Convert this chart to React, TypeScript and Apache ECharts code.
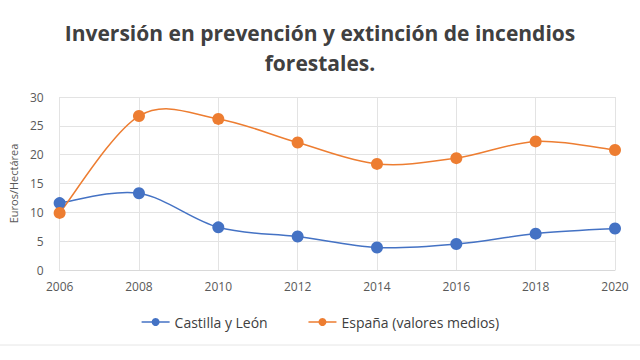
import React, { useEffect, useRef } from "react";
import * as echarts from "echarts";

const years = ["2006", "2008", "2010", "2012", "2014", "2016", "2018", "2020"];
const castilla = [11.6, 13.3, 7.4, 5.8, 3.9, 4.5, 6.3, 7.2];
const espana = [9.9, 26.7, 26.2, 22.1, 18.4, 19.4, 22.3, 20.8];

const BLUE = "#4472C4";
const ORANGE = "#ED7D31";

function smoothCurve(color: string) {
  return (params: any, api: any) => {
    if (params.dataIndex !== 0) return null;
    const n = params.dataInsideLength;
    const pts: number[][] = [];
    for (let j = 0; j < n; j++) {
      pts.push(api.coord([api.value(0, j), api.value(1, j)]));
    }
    let d = `M${pts[0][0]},${pts[0][1]}`;
    for (let i = 0; i < n - 1; i++) {
      const p0 = pts[Math.max(i - 1, 0)];
      const p1 = pts[i];
      const p2 = pts[i + 1];
      const p3 = pts[Math.min(i + 2, n - 1)];
      const c1x = p1[0] + (p2[0] - p0[0]) / 6;
      const c1y = p1[1] + (p2[1] - p0[1]) / 6;
      const c2x = p2[0] - (p3[0] - p1[0]) / 6;
      const c2y = p2[1] - (p3[1] - p1[1]) / 6;
      d += ` C${c1x},${c1y} ${c2x},${c2y} ${p2[0]},${p2[1]}`;
    }
    return {
      type: "path",
      shape: { pathData: d },
      style: { stroke: color, lineWidth: 1.5, fill: "none" },
    };
  };
}

export default function App() {
  const ref = useRef<HTMLDivElement>(null);
  useEffect(() => {
    const chart = echarts.init(ref.current!, null, { renderer: "svg" });
    const font = "Open Sans";
    chart.setOption({
      animation: false,
      backgroundColor: "#ffffff",
      title: {
        text: "Inversión en prevención y extinción de incendios\nforestales.",
        left: "center",
        top: 13,
        textStyle: {
          fontFamily: font,
          fontSize: 21,
          fontWeight: "bold",
          color: "#404040",
          lineHeight: 30,
          align: "center",
        },
      },
      grid: { left: 53, right: 25, top: 97, bottom: 90 },
      legend: {
        bottom: 26,
        left: "center",
        itemGap: 40,
        itemWidth: 28,
        itemHeight: 10,
        textStyle: { fontFamily: font, fontSize: 14, color: "#404040" },
        data: [
          { name: "Castilla y León", lineStyle: { color: BLUE, width: 1.5, opacity: 1 } },
          { name: "España (valores medios)", lineStyle: { color: ORANGE, width: 1.5, opacity: 1 } },
        ],
      },
      xAxis: {
        type: "category",
        data: years,
        boundaryGap: false,
        axisLine: { lineStyle: { color: "#d9d9d9" } },
        axisTick: { show: false },
        axisLabel: { color: "#595959", fontFamily: font, fontSize: 12, margin: 10 },
        splitLine: { show: true, lineStyle: { color: "#e3e3e3" } },
      },
      yAxis: {
        type: "value",
        min: 0,
        max: 30,
        interval: 5,
        name: "Euros/Hectárea",
        nameLocation: "middle",
        nameGap: 36,
        nameTextStyle: { color: "#595959", fontFamily: font, fontSize: 11 },
        axisLine: { show: false },
        axisTick: { show: false },
        axisLabel: { color: "#595959", fontFamily: font, fontSize: 12, margin: 16 },
        splitLine: { lineStyle: { color: "#e3e3e3" } },
      },
      series: [
        {
          type: "custom",
          renderItem: smoothCurve(BLUE),
          data: castilla.map((v, i) => [i, v]),
          z: 1,
          silent: true,
        },
        {
          type: "custom",
          renderItem: smoothCurve(ORANGE),
          data: espana.map((v, i) => [i, v]),
          z: 1,
          silent: true,
        },
        {
          name: "Castilla y León",
          type: "line",
          data: castilla,
          symbol: "circle",
          symbolSize: 12,
          z: 3,
          itemStyle: { color: BLUE },
          lineStyle: { color: BLUE, width: 0, opacity: 0 },
        },
        {
          name: "España (valores medios)",
          type: "line",
          data: espana,
          symbol: "circle",
          symbolSize: 12,
          z: 3,
          itemStyle: { color: ORANGE },
          lineStyle: { color: ORANGE, width: 0, opacity: 0 },
        },
      ],
      graphic: [
        {
          type: "line",
          shape: { x1: 0, y1: 345, x2: 640, y2: 345 },
          style: { stroke: "#e6e6e6", lineWidth: 1 },
        },
      ],
    });
    return () => chart.dispose();
  }, []);
  return <div ref={ref} style={{ width: 640, height: 360, position: "absolute", left: 0, top: 0 }} />;
}
